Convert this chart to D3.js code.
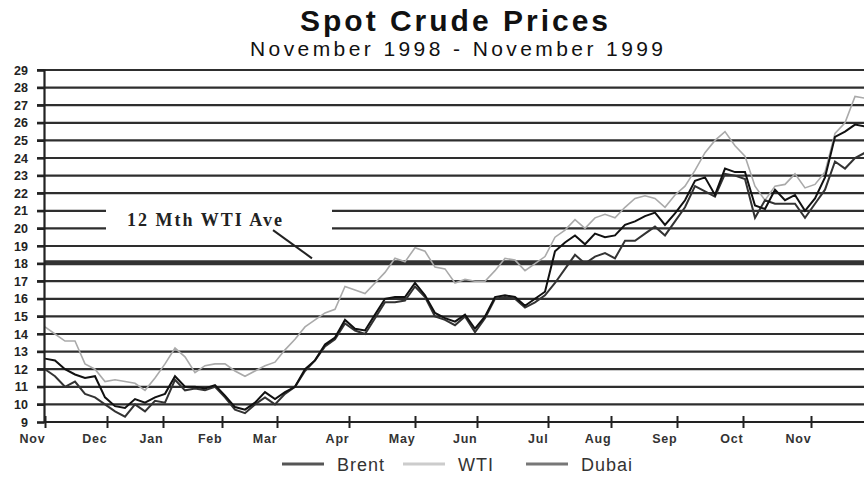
<!DOCTYPE html>
<html>
<head>
<meta charset="utf-8">
<script src="https://cdn.jsdelivr.net/npm/d3@7"></script>
<style>
  body { margin: 0; background: #fff; }
  svg { display: block; }
</style>
</head>
<body>
<script>
// samples are evenly spaced (about every 3 trading days), Nov 1998 -> late Nov 1999
var brent = [12.6, 12.5, 12.0, 11.7, 11.5, 11.6, 10.4, 9.9, 9.8, 10.3, 10.1, 10.4, 10.6, 11.6, 11.0, 11.0, 10.9, 11.1, 10.5, 9.85,
    9.7, 10.1, 10.7, 10.3, 10.7, 11.0, 12.0, 12.5, 13.4, 13.8, 14.8, 14.3, 14.2, 15.1, 16.0, 16.1, 16.1, 16.9, 16.2, 15.2,
    14.9, 14.7, 15.1, 14.3, 15.0, 16.1, 16.2, 16.1, 15.6, 16.0, 16.4, 18.7, 19.2, 19.6, 19.1, 19.7, 19.5, 19.6, 20.2, 20.4,
    20.7, 20.9, 20.2, 20.85, 21.6, 22.7, 22.9, 21.9, 23.4, 23.2, 23.2, 21.3, 21.1, 22.2, 21.6, 21.9, 21.0, 21.7, 22.9, 25.2,
    25.5, 25.9, 25.8];
var wti = [14.4, 14.0, 13.6, 13.6, 12.3, 12.0, 11.3, 11.4, 11.3, 11.2, 10.8, 11.5, 12.3, 13.2, 12.7, 11.8, 12.2, 12.3, 12.3, 11.9,
    11.6, 11.9, 12.2, 12.4, 13.1, 13.7, 14.4, 14.8, 15.2, 15.4, 16.7, 16.5, 16.3, 16.9, 17.5, 18.3, 18.1, 18.9, 18.7, 17.8,
    17.7, 16.9, 17.1, 17.0, 17.0, 17.6, 18.3, 18.2, 17.6, 18.0, 18.4, 19.5, 19.9, 20.5, 20.0, 20.6, 20.8, 20.6, 21.2, 21.7,
    21.85, 21.7, 21.2, 21.9, 22.4, 23.3, 24.3, 25.0, 25.5, 24.7, 24.1, 22.4, 21.6, 22.4, 22.5, 23.1, 22.3, 22.5, 23.2, 25.4,
    26.0, 27.5, 27.4];
var dubai = [12.0, 11.6, 11.0, 11.3, 10.6, 10.4, 10.0, 9.6, 9.3, 10.0, 9.6, 10.2, 10.1, 11.4, 10.8, 10.9, 10.8, 11.0, 10.4, 9.7,
    9.5, 10.0, 10.4, 10.0, 10.6, 11.0, 11.9, 12.5, 13.3, 13.7, 14.6, 14.2, 14.0, 14.9, 15.8, 15.8, 15.9, 16.7, 16.1, 15.0,
    14.8, 14.5, 15.0, 14.1, 14.9, 16.0, 16.1, 16.0, 15.5, 15.8, 16.2, 16.9, 17.7, 18.5, 18.0, 18.4, 18.6, 18.3, 19.3, 19.3,
    19.7, 20.1, 19.6, 20.4, 21.2, 22.4, 22.1, 21.8, 23.1, 23.0, 22.8, 20.6, 21.6, 21.4, 21.4, 21.4, 20.6, 21.4, 22.2, 23.8,
    23.4, 24.0, 24.3];

var wtiAve = 18.05; // 12 month WTI average
var monthLabels = ["Nov", "Dec", "Jan", "Feb", "Mar", "Apr", "May", "Jun", "Jul", "Aug", "Sep", "Oct", "Nov"];
var monthStart = [0, 6.2, 11.8, 17.7, 23.2, 30.4, 37.0, 43.2, 50.3, 56.6, 63.2, 69.8, 76.6]; // in sample index units
var yTicks = d3.range(9, 30);
var seriesNames = ["Brent", "WTI", "Dubai"];

var chartW = 864, chartH = 479;
var padLeft = 44, plotTop = 70, plotBottom = 422;

var svg = d3.select("body").append("svg")
    .attr("width", chartW)
    .attr("height", chartH);

var x = d3.scaleLinear().domain([0, brent.length - 1]).range([padLeft + 1, chartW + 1]);
var y = d3.scaleLinear().domain([9, 29]).range([plotBottom, plotTop]);

// titles
svg.append("text")
    .attr("x", 300).attr("y", 31)
    .attr("textLength", 308).attr("lengthAdjust", "spacing")
    .style("font-family", "Liberation Sans, Arial, sans-serif")
    .style("font-weight", "bold").style("font-size", "30px").attr("fill", "#111")
    .text("Spot Crude Prices");
svg.append("text")
    .attr("x", 250).attr("y", 56)
    .attr("textLength", 413).attr("lengthAdjust", "spacing")
    .style("font-family", "Liberation Sans, Arial, sans-serif")
    .style("font-size", "21px").attr("fill", "#111")
    .text("November 1998 - November 1999");

// grid lines
svg.append("g").selectAll("line")
    .data(yTicks.filter(function(d) { return d > 9; }))
    .enter().append("line")
    .attr("x1", padLeft - 7).attr("x2", chartW)
    .attr("y1", function(d) { return y(d); })
    .attr("y2", function(d) { return y(d); })
    .attr("stroke", "#2e2e2e")
    .attr("stroke-width", 2.2);

// average line
svg.append("line")
    .attr("x1", padLeft).attr("x2", chartW)
    .attr("y1", y(wtiAve)).attr("y2", y(wtiAve))
    .attr("stroke", "#333").attr("stroke-width", 5);

// gap for the annotation
svg.append("rect")
    .attr("x", 106).attr("y", y(21.5))
    .attr("width", 226).attr("height", y(19.5) - y(21.5))
    .attr("fill", "#fff");

svg.append("text")
    .attr("x", 127).attr("y", y(20) - 2)
    .attr("textLength", 155).attr("lengthAdjust", "spacing")
    .style("font-family", "Liberation Serif, Times New Roman, serif")
    .style("font-weight", "bold").style("font-size", "18px").attr("fill", "#222")
    .text("12 Mth WTI Ave");
svg.append("line")
    .attr("x1", 273).attr("y1", y(19.9))
    .attr("x2", 312).attr("y2", y(18.3))
    .attr("stroke", "#222").attr("stroke-width", 2);

// series
var line = d3.line()
    .x(function(d, i) { return x(i); })
    .y(function(d) { return y(d); });

svg.append("path").datum(wti)
    .attr("d", line).attr("fill", "none")
    .attr("stroke", "#aaa").attr("stroke-width", 1.6);
svg.append("path").datum(dubai)
    .attr("d", line).attr("fill", "none")
    .attr("stroke", "#333").attr("stroke-width", 2);
svg.append("path").datum(brent)
    .attr("d", line).attr("fill", "none")
    .attr("stroke", "#111").attr("stroke-width", 2);

// y axis
var yAxis = svg.append("g")
    .attr("transform", "translate(" + padLeft + ",0)")
    .call(d3.axisLeft(y).tickValues(yTicks).tickSize(7).tickPadding(9).tickFormat(d3.format("d")));
yAxis.select(".domain").attr("stroke", "#222").attr("stroke-width", 2.2);
yAxis.selectAll(".tick line").attr("stroke", "#222").attr("stroke-width", 2.2);
yAxis.selectAll("text")
    .style("font-family", "Liberation Sans, Arial, sans-serif")
    .style("font-weight", "bold").style("font-size", "12.5px").attr("fill", "#222");

// x axis
var xAxis = svg.append("g")
    .attr("transform", "translate(0," + plotBottom + ")")
    .call(d3.axisBottom(x).tickValues(monthStart).tickSize(6)
        .tickFormat(function(d, i) { return monthLabels[i]; }));
xAxis.select(".domain").attr("d", "M" + padLeft + ",0H" + chartW).attr("stroke", "#222").attr("stroke-width", 2.2);
xAxis.selectAll(".tick line").attr("y1", -6).attr("y2", 6).attr("stroke", "#222").attr("stroke-width", 2);
xAxis.selectAll("text")
    .attr("y", 21).attr("dy", 0)
    .style("text-anchor", "end")
    .style("font-family", "Liberation Sans, Arial, sans-serif")
    .style("font-weight", "bold").style("font-size", "12.5px").style("letter-spacing", "0.8px").attr("fill", "#333");

// legend
var legendColor = ["#555", "#ccc", "#777"];
var legendX = [282, 403, 526];
var legend = svg.append("g").selectAll("g")
    .data(seriesNames)
    .enter().append("g")
    .attr("transform", function(d, i) { return "translate(" + legendX[i] + ",464)"; });
legend.append("line")
    .attr("x1", 0).attr("x2", 42)
    .attr("stroke", function(d, i) { return legendColor[i]; })
    .attr("stroke-width", 3);
legend.append("text")
    .attr("x", 55).attr("y", 7)
    .style("font-family", "Liberation Sans, Arial, sans-serif")
    .style("font-size", "18px").style("letter-spacing", "1px").attr("fill", "#333")
    .text(function(d) { return d; });
</script>
</body>
</html>
